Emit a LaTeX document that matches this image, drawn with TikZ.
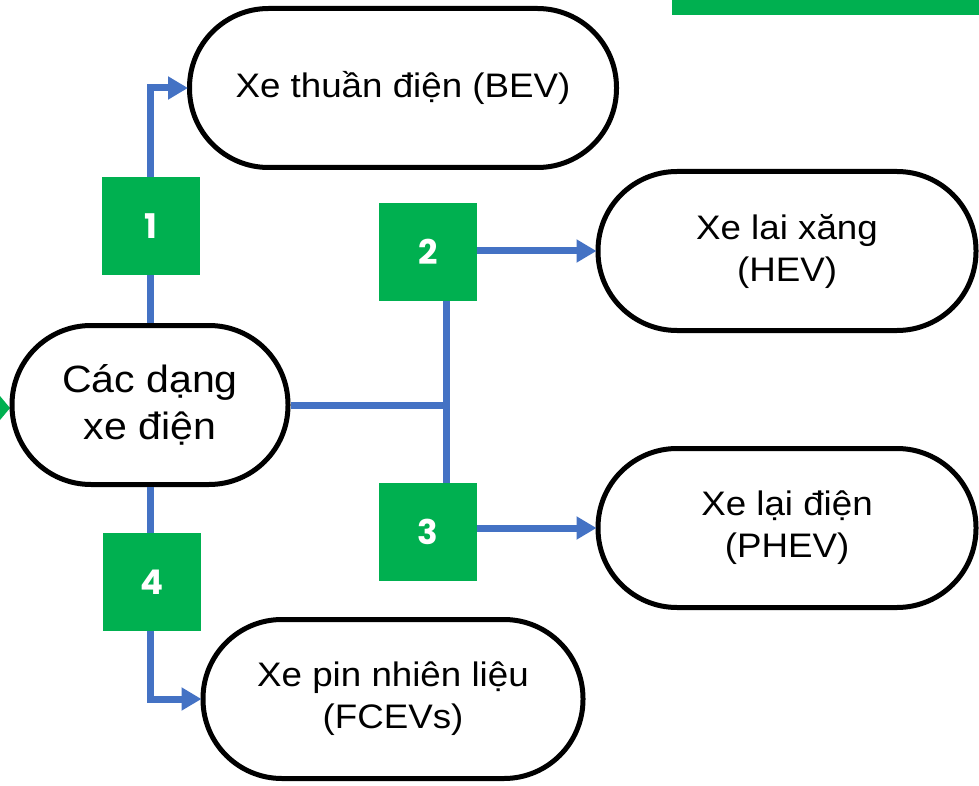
\documentclass[tikz,border=0pt]{standalone}
\usepackage{fontspec}
\setmainfont{Liberation Sans}[FakeStretch=1.08]
\newfontfamily\numfont{Poppins}
\usetikzlibrary{arrows.meta}
\definecolor{gbox}{HTML}{00B050}
\definecolor{lblue}{HTML}{4472C4}
\tikzset{
  pill/.style={draw=black, line width=5pt, fill=white, rectangle, rounded corners=79pt,
    minimum height=159pt, align=center, font=\fontsize{34}{42}\selectfont, inner sep=0pt},
  numbox/.style={fill=gbox, minimum width=98pt, minimum height=98pt, inner sep=0pt,
    text=white, font=\numfont\bfseries\fontsize{34}{34}\selectfont},
  link/.style={draw=lblue, line width=7pt},
  arr/.style={link, -{Triangle[length=20pt,width=22pt]}, shorten >=-1pt}
}
\begin{document}
\begin{tikzpicture}[x=1pt,y=-1pt]
\useasboundingbox (0,0) rectangle (979,786);
% decorative partial shapes
\fill[gbox] (672,0) rectangle (979,15);
\fill[gbox] (0,396) -- (10,408) -- (0,420) -- cycle;
% nodes
\node[pill, minimum width=276pt, font=\fontsize{38}{47}\selectfont] (c) at (150,405) {Các dạng\\xe điện};
\node[pill, minimum width=427pt] (bev) at (403,88) {Xe thuần điện (BEV)};
\node[pill, minimum width=378pt] (hev) at (787,251) {Xe lai xăng\\(HEV)};
\node[pill, minimum width=378pt] (phev) at (787,528) {Xe lại điện\\(PHEV)};
\node[pill, minimum width=380pt] (fcev) at (393,699) {Xe pin nhiên liệu\\(FCEVs)};
\coordinate (j) at (446,405);
% connectors
\draw[arr] (c.north) |- (bev.west);
\draw[arr] (c.south) |- (fcev.west);
\draw[link] (c.east) -- (j);
\node[numbox] (b2) at (428,252) {2};
\node[numbox] (b3) at (428,532) {3};
\draw[link] (b2.south -| j) -- (b3.north -| j);
\draw[arr] (hev.west -| b2.east) -- (hev.west);
\draw[arr] (phev.west -| b3.east) -- (phev.west);
\node[numbox] (b1) at (151,226) {1};
\node[numbox] (b4) at (152,582) {4};
\end{tikzpicture}
\end{document}
